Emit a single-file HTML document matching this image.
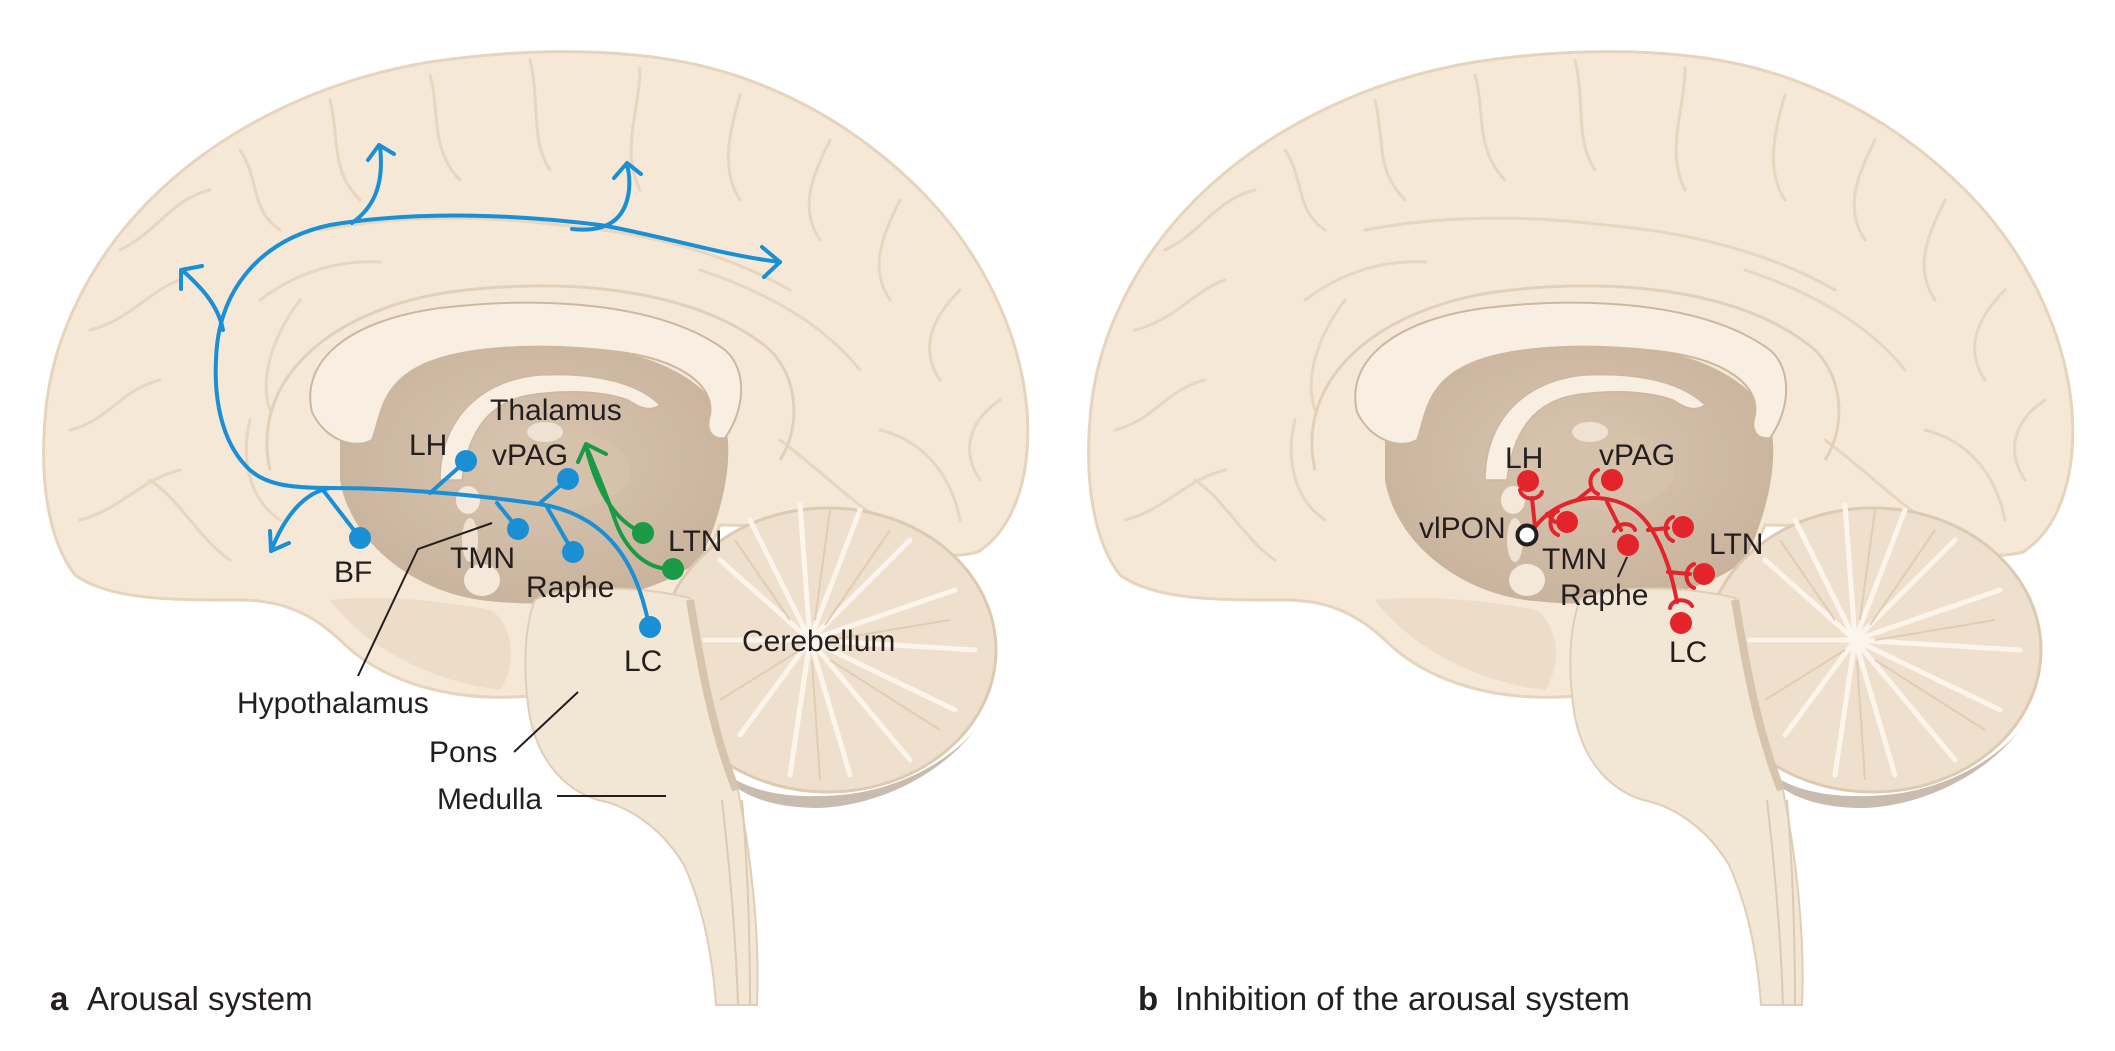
<!DOCTYPE html>
<html><head><meta charset="utf-8"><style>
html,body{margin:0;padding:0;background:#fff;}
svg{display:block;}
text{font-family:"Liberation Sans",sans-serif;fill:#231f20;}
</style></head><body>
<svg width="2115" height="1051" viewBox="0 0 2115 1051" xmlns="http://www.w3.org/2000/svg">
<defs>
<radialGradient id="cb" cx="0.45" cy="0.5" r="0.6">
<stop offset="0" stop-color="#fbf3e6"/><stop offset="1" stop-color="#ecdcc6"/>
</radialGradient>
<radialGradient id="dk" cx="0.5" cy="0.45" r="0.6">
<stop offset="0" stop-color="#d9c5b0"/><stop offset="1" stop-color="#c8b29c"/>
</radialGradient>
<g id="brain">
<!-- cerebrum -->
<path d="M75,575 C48,540 40,480 45,420 C50,340 90,260 150,200 C220,130 320,80 430,62 C510,50 590,48 660,58 C760,72 850,120 920,190 C980,250 1020,330 1027,410 C1032,480 1012,530 978,552 C940,562 900,548 870,528 L720,525 C690,600 630,680 540,695 C450,705 380,680 340,640 C310,612 280,600 240,600 C170,600 110,600 75,575 Z" fill="#f5e8d6" stroke="#e6d4bd" stroke-width="3"/>
<!-- gyri texture -->
<g fill="none" stroke="#e8d6bf" stroke-width="3" stroke-linecap="round">
<path d="M120,250 C160,230 170,200 210,190"/>
<path d="M90,330 C130,320 150,290 180,280"/>
<path d="M70,430 C110,420 120,390 160,380"/>
<path d="M80,520 C120,510 140,480 180,470"/>
<path d="M240,150 C260,180 250,210 280,230"/>
<path d="M330,100 C340,140 330,170 360,200"/>
<path d="M430,75 C440,110 430,150 460,180"/>
<path d="M530,60 C540,100 530,140 550,170"/>
<path d="M640,68 C640,110 620,150 640,190"/>
<path d="M740,95 C730,130 720,170 740,200"/>
<path d="M830,140 C810,180 800,210 820,240"/>
<path d="M900,200 C880,240 870,270 890,300"/>
<path d="M960,290 C930,320 920,350 940,380"/>
<path d="M1000,400 C970,420 960,450 980,480"/>
<path d="M320,230 C400,215 480,215 560,225 C640,232 720,250 790,290"/>
<path d="M260,300 C300,270 340,260 380,262"/>
<path d="M700,270 C760,290 820,320 860,370"/>
<path d="M880,430 C920,440 950,470 960,520"/>
<path d="M250,420 C240,460 250,500 280,520"/>
<path d="M150,480 C180,500 200,540 230,560"/>
<path d="M780,440 C820,470 850,500 880,520"/>
<path d="M300,300 C270,340 260,380 270,410"/>
</g>
<!-- cingulate outline -->
<path d="M270,470 C250,380 330,310 450,292 C570,276 700,290 770,350 C800,380 800,430 780,460" fill="none" stroke="#e4d0b8" stroke-width="3"/>
<!-- dark inner region -->
<path d="M340,430 C360,370 440,345 530,343 C620,342 690,365 720,410 C740,450 720,520 700,560 C650,600 560,610 480,600 C410,590 350,540 340,480 Z" fill="url(#dk)"/>
<!-- corpus callosum -->
<path d="M312,412 C300,360 350,320 440,308 C540,296 660,302 725,350 C748,370 745,410 725,438 C712,440 705,430 710,415 C715,385 680,360 620,352 C540,342 450,345 410,372 C380,392 380,420 372,440 C355,450 325,440 312,412 Z" fill="#f8efe2" stroke="#cdb79f" stroke-width="2"/>
<!-- fornix -->
<path d="M440,480 C440,420 480,380 540,375 C600,372 640,385 660,405 C650,412 640,408 628,400 C600,390 560,390 530,395 C490,402 468,430 462,480 Z" fill="#f8efe2" stroke="#cdb79f" stroke-width="1.5"/>
<!-- thalamus lighter -->
<ellipse cx="560" cy="470" rx="70" ry="40" fill="#d6c1ab"/>
<ellipse cx="545" cy="432" rx="18" ry="10" fill="#efe2d2"/>
<!-- hypothalamus area white ovals -->
<ellipse cx="468" cy="500" rx="12" ry="14" fill="#f3e8da"/>
<ellipse cx="482" cy="580" rx="18" ry="16" fill="#f3e8da"/>
<ellipse cx="470" cy="540" rx="8" ry="22" fill="#efe2d2"/>
<!-- temporal lobe / lower region shading -->
<path d="M330,600 C360,640 420,680 500,690 C520,660 510,620 490,610 C440,600 380,595 330,600 Z" fill="#ecdcc8"/>
<!-- cerebellum -->
<ellipse cx="828" cy="650" rx="168" ry="142" fill="#eee0cc" stroke="#dccab2" stroke-width="3"/>
<path d="M700,740 C720,790 780,800 840,795 C900,790 950,760 975,730 C940,775 880,805 820,808 C760,808 720,790 700,740 Z" fill="#c9bbad"/>
<g stroke="#fbf5ec" stroke-width="5" fill="none" stroke-linecap="round">
<path d="M810,640 L720,560"/><path d="M810,640 L750,520"/><path d="M810,640 L800,505"/>
<path d="M810,640 L860,510"/><path d="M810,640 L910,540"/><path d="M810,640 L955,590"/>
<path d="M810,640 L975,650"/><path d="M810,640 L955,710"/><path d="M810,640 L910,760"/>
<path d="M810,640 L850,775"/><path d="M810,640 L790,775"/><path d="M810,640 L740,735"/>
<path d="M810,640 L705,640"/>
</g>
<g stroke="#e0cdb5" stroke-width="2" fill="none">
<path d="M735,540 L790,620"/><path d="M830,510 L815,620"/><path d="M890,530 L825,625"/>
<path d="M950,620 L830,640"/><path d="M940,730 L830,660"/><path d="M820,780 L812,660"/>
<path d="M720,700 L800,650"/>
</g>
<!-- brainstem -->
<path d="M535,600 C560,585 640,585 690,598 C700,650 712,720 738,790 C752,860 760,940 757,1005 L716,1005 C712,950 702,905 684,865 C660,825 625,805 598,800 C565,790 535,760 528,705 C522,655 527,620 535,600 Z" fill="#f2e6d5" stroke="#e0ceb6" stroke-width="2"/>
<path d="M690,600 C700,660 712,730 736,790" fill="none" stroke="#d8c4ad" stroke-width="8"/>
<path d="M722,800 C730,870 736,940 738,1005" fill="none" stroke="#dccab4" stroke-width="2"/>
<path d="M742,800 C748,870 750,940 750,1005" fill="none" stroke="#dccab4" stroke-width="2"/>
</g>
</defs>

<use href="#brain"/>
<use href="#brain" transform="translate(1045,0)"/>

<!-- Panel a: blue pathways -->
<g fill="none" stroke="#1b8fd4" stroke-width="4" stroke-linecap="round" stroke-linejoin="round">
<path d="M650,630 C640,580 620,520 545,505 C480,495 400,488 330,488 C290,488 262,485 245,465 C222,440 214,400 216,360 C218,290 260,240 330,225 C420,210 520,215 600,225 C660,235 720,255 780,262"/>
<path d="M762,247 L780,262 L764,277"/>
<path d="M223,330 C218,305 202,288 182,270"/>
<path d="M181,289 L181,270 L202,266"/>
<path d="M352,223 C370,210 385,190 380,146"/>
<path d="M368,160 L379,145 L394,154"/>
<path d="M572,229 C600,232 625,225 629,190 C630,180 629,172 627,165"/>
<path d="M614,178 L627,163 L641,174"/>
<path d="M330,488 C305,492 285,515 271,551"/>
<path d="M270,531 L271,551 L289,543"/>
<path d="M323,490 L360,538"/>
<path d="M430,493 L466,461"/>
<path d="M497,503 L518,529"/>
<path d="M540,503 L568,479"/>
<path d="M547,507 L573,552"/>
</g>
<g fill="#1b8fd4">
<circle cx="360" cy="538" r="11"/>
<circle cx="466" cy="461" r="11"/>
<circle cx="518" cy="529" r="11"/>
<circle cx="568" cy="479" r="11"/>
<circle cx="573" cy="552" r="11"/>
<circle cx="650" cy="627" r="11"/>
</g>
<!-- green -->
<g fill="none" stroke="#1a9a45" stroke-width="4" stroke-linecap="round" stroke-linejoin="round">
<path d="M643,533 C612,520 595,485 586,446"/>
<path d="M673,569 C645,570 625,548 615,520 C605,490 594,465 586,446"/>
<path d="M578,462 L586,444 L606,454"/>
</g>
<g fill="#1a9a45"><circle cx="643" cy="533" r="11"/><circle cx="673" cy="569" r="11"/></g>
<!-- leader lines -->
<g stroke="#231f20" stroke-width="2" fill="none">
<path d="M358,676 L418,549 L492,523"/>
<path d="M514,752 L578,692"/>
<path d="M557,796 L666,796"/>
</g>
<g font-size="30">
<text x="490" y="420">Thalamus</text>
<text x="409" y="455">LH</text>
<text x="492" y="465">vPAG</text>
<text x="334" y="582">BF</text>
<text x="450" y="568">TMN</text>
<text x="526" y="597">Raphe</text>
<text x="668" y="551">LTN</text>
<text x="624" y="671">LC</text>
<text x="742" y="651">Cerebellum</text>
<text x="237" y="713">Hypothalamus</text>
<text x="429" y="762">Pons</text>
<text x="437" y="809">Medulla</text>
</g>
<text x="50" y="1010" font-size="33" font-weight="bold">a</text>
<text x="87" y="1010" font-size="33">Arousal system</text>

<!-- Panel b: red -->
<g fill="none" stroke="#e3242b" stroke-width="4" stroke-linecap="round" stroke-linejoin="round">
<path d="M1535,527 C1550,508 1570,500 1590,498 C1620,497 1640,510 1652,530 C1665,552 1672,575 1677,602"/>
<path d="M1535,527 L1532,498"/>
<path d="M1577,500 L1592,488"/>
<path d="M1547,514 L1555,522"/>
<path d="M1607,502 L1621,530"/>
<path d="M1648,530 L1668,528"/>
<path d="M1668,572 L1690,574"/>
<path d="M1520,490 C1522,500 1538,502 1542,492"/>
<path d="M1598,470 C1588,474 1588,490 1598,494"/>
<path d="M1558,511 C1548,515 1548,531 1558,535"/>
<path d="M1614,531 C1618,522 1632,522 1635,530"/>
<path d="M1673,517 C1663,521 1663,537 1673,541"/>
<path d="M1694,564 C1684,568 1684,584 1694,588"/>
<path d="M1670,608 C1672,598 1688,598 1692,606"/>
</g>
<g fill="#e3242b">
<circle cx="1528" cy="481" r="11"/>
<circle cx="1612" cy="480" r="11"/>
<circle cx="1567" cy="522" r="11"/>
<circle cx="1628" cy="545" r="11"/>
<circle cx="1683" cy="527" r="11"/>
<circle cx="1704" cy="574" r="11"/>
<circle cx="1681" cy="623" r="11"/>
</g>
<circle cx="1527" cy="535" r="9.5" fill="#fff" stroke="#231f20" stroke-width="4"/>
<path d="M1618,577 L1627,557" stroke="#231f20" stroke-width="2"/>
<g font-size="30">
<text x="1505" y="468">LH</text>
<text x="1599" y="465">vPAG</text>
<text x="1419" y="538">vlPON</text>
<text x="1542" y="569">TMN</text>
<text x="1560" y="605">Raphe</text>
<text x="1709" y="554">LTN</text>
<text x="1669" y="662">LC</text>
</g>
<text x="1138" y="1010" font-size="33" font-weight="bold">b</text>
<text x="1175" y="1010" font-size="33">Inhibition of the arousal system</text>
</svg>
</body></html>
